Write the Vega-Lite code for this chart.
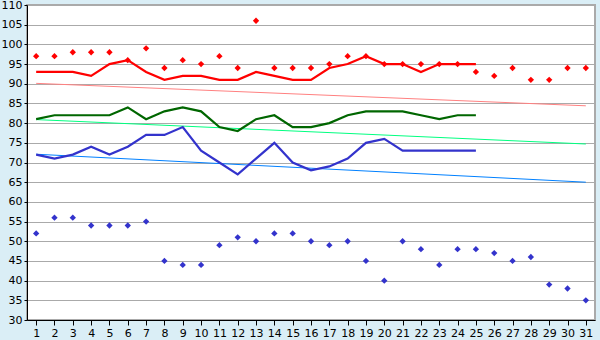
{
  "$schema": "https://vega.github.io/schema/vega-lite/v6.json",
  "width": 568,
  "height": 315,
  "autosize": {"type": "none"},
  "padding": {"left": 27, "top": 5, "right": 5, "bottom": 20},
  "background": "#daeef6",
  "config": {
    "view": {"fill": "white", "stroke": "#aaaaaa", "strokeWidth": 2},
    "font": "DejaVu Sans",
    "axis": {"labelFont": "DejaVu Sans", "labelFontSize": 11, "labelColor": "black", "domainColor": "black", "tickColor": "black"}
  },
  "datasets": {
    "lines": [
      {"x":1,"s":"red","y":93},{"x":2,"s":"red","y":93},{"x":3,"s":"red","y":93},{"x":4,"s":"red","y":92},{"x":5,"s":"red","y":95},{"x":6,"s":"red","y":96},{"x":7,"s":"red","y":93},{"x":8,"s":"red","y":91},{"x":9,"s":"red","y":92},{"x":10,"s":"red","y":92},{"x":11,"s":"red","y":91},{"x":12,"s":"red","y":91},{"x":13,"s":"red","y":93},{"x":14,"s":"red","y":92},{"x":15,"s":"red","y":91},{"x":16,"s":"red","y":91},{"x":17,"s":"red","y":94},{"x":18,"s":"red","y":95},{"x":19,"s":"red","y":97},{"x":20,"s":"red","y":95},{"x":21,"s":"red","y":95},{"x":22,"s":"red","y":93},{"x":23,"s":"red","y":95},{"x":24,"s":"red","y":95},{"x":25,"s":"red","y":95},
      {"x":1,"s":"green","y":81},{"x":2,"s":"green","y":82},{"x":3,"s":"green","y":82},{"x":4,"s":"green","y":82},{"x":5,"s":"green","y":82},{"x":6,"s":"green","y":84},{"x":7,"s":"green","y":81},{"x":8,"s":"green","y":83},{"x":9,"s":"green","y":84},{"x":10,"s":"green","y":83},{"x":11,"s":"green","y":79},{"x":12,"s":"green","y":78},{"x":13,"s":"green","y":81},{"x":14,"s":"green","y":82},{"x":15,"s":"green","y":79},{"x":16,"s":"green","y":79},{"x":17,"s":"green","y":80},{"x":18,"s":"green","y":82},{"x":19,"s":"green","y":83},{"x":20,"s":"green","y":83},{"x":21,"s":"green","y":83},{"x":22,"s":"green","y":82},{"x":23,"s":"green","y":81},{"x":24,"s":"green","y":82},{"x":25,"s":"green","y":82},
      {"x":1,"s":"blue","y":72},{"x":2,"s":"blue","y":71},{"x":3,"s":"blue","y":72},{"x":4,"s":"blue","y":74},{"x":5,"s":"blue","y":72},{"x":6,"s":"blue","y":74},{"x":7,"s":"blue","y":77},{"x":8,"s":"blue","y":77},{"x":9,"s":"blue","y":79},{"x":10,"s":"blue","y":73},{"x":11,"s":"blue","y":70},{"x":12,"s":"blue","y":67},{"x":13,"s":"blue","y":71},{"x":14,"s":"blue","y":75},{"x":15,"s":"blue","y":70},{"x":16,"s":"blue","y":68},{"x":17,"s":"blue","y":69},{"x":18,"s":"blue","y":71},{"x":19,"s":"blue","y":75},{"x":20,"s":"blue","y":76},{"x":21,"s":"blue","y":73},{"x":22,"s":"blue","y":73},{"x":23,"s":"blue","y":73},{"x":24,"s":"blue","y":73},{"x":25,"s":"blue","y":73}
    ],
    "points": [
      {"x":1,"s":"red","y":97},{"x":2,"s":"red","y":97},{"x":3,"s":"red","y":98},{"x":4,"s":"red","y":98},{"x":5,"s":"red","y":98},{"x":6,"s":"red","y":96},{"x":7,"s":"red","y":99},{"x":8,"s":"red","y":94},{"x":9,"s":"red","y":96},{"x":10,"s":"red","y":95},{"x":11,"s":"red","y":97},{"x":12,"s":"red","y":94},{"x":13,"s":"red","y":106},{"x":14,"s":"red","y":94},{"x":15,"s":"red","y":94},{"x":16,"s":"red","y":94},{"x":17,"s":"red","y":95},{"x":18,"s":"red","y":97},{"x":19,"s":"red","y":97},{"x":20,"s":"red","y":95},{"x":21,"s":"red","y":95},{"x":22,"s":"red","y":95},{"x":23,"s":"red","y":95},{"x":24,"s":"red","y":95},{"x":25,"s":"red","y":93},{"x":26,"s":"red","y":92},{"x":27,"s":"red","y":94},{"x":28,"s":"red","y":91},{"x":29,"s":"red","y":91},{"x":30,"s":"red","y":94},{"x":31,"s":"red","y":94},
      {"x":1,"s":"blue","y":52},{"x":2,"s":"blue","y":56},{"x":3,"s":"blue","y":56},{"x":4,"s":"blue","y":54},{"x":5,"s":"blue","y":54},{"x":6,"s":"blue","y":54},{"x":7,"s":"blue","y":55},{"x":8,"s":"blue","y":45},{"x":9,"s":"blue","y":44},{"x":10,"s":"blue","y":44},{"x":11,"s":"blue","y":49},{"x":12,"s":"blue","y":51},{"x":13,"s":"blue","y":50},{"x":14,"s":"blue","y":52},{"x":15,"s":"blue","y":52},{"x":16,"s":"blue","y":50},{"x":17,"s":"blue","y":49},{"x":18,"s":"blue","y":50},{"x":19,"s":"blue","y":45},{"x":20,"s":"blue","y":40},{"x":21,"s":"blue","y":50},{"x":22,"s":"blue","y":48},{"x":23,"s":"blue","y":44},{"x":24,"s":"blue","y":48},{"x":25,"s":"blue","y":48},{"x":26,"s":"blue","y":47},{"x":27,"s":"blue","y":45},{"x":28,"s":"blue","y":46},{"x":29,"s":"blue","y":39},{"x":30,"s":"blue","y":38},{"x":31,"s":"blue","y":35}
    ],
    "trends": [
      {"x":1,"s":"red","y":90.1},{"x":31,"s":"red","y":84.4},
      {"x":1,"s":"green","y":80.9},{"x":31,"s":"green","y":74.7},
      {"x":1,"s":"blue","y":72.1},{"x":31,"s":"blue","y":65.0}
    ]
  },
  "encoding": {
    "x": {"field": "x", "type": "quantitative", "scale": {"domain": [0.5, 31.5], "nice": false, "zero": false},
      "axis": {"title": null, "grid": false, "values": [1,2,3,4,5,6,7,8,9,10,11,12,13,14,15,16,17,18,19,20,21,22,23,24,25,26,27,28,29,30,31], "tickSize": 5, "labelPadding": 2, "domainWidth": 1}},
    "y": {"field": "y", "type": "quantitative", "scale": {"domain": [30, 110], "nice": false, "zero": false},
      "axis": {"title": null, "values": [30,35,40,45,50,55,60,65,70,75,80,85,90,95,100,105,110], "grid": true, "gridColor": "#aaaaaa", "gridWidth": 1, "tickSize": 3, "labelPadding": 2}}
  },
  "layer": [
    {
      "data": {"name": "trends"},
      "mark": {"type": "line", "strokeWidth": 1},
      "encoding": {
        "detail": {"field": "s"},
        "color": {"field": "s", "type": "nominal", "scale": {"domain": ["red","green","blue"], "range": ["#ff8080","#00ff80","#0080ff"]}, "legend": null}
      }
    },
    {
      "data": {"name": "lines"},
      "mark": {"type": "line", "strokeWidth": 2.2},
      "encoding": {
        "detail": {"field": "s"},
        "color": {"field": "s", "type": "nominal", "scale": {"domain": ["red","green","blue"], "range": ["#ff0000","#006600","#3333cc"]}, "legend": null}
      }
    },
    {
      "data": {"name": "points"},
      "mark": {"type": "point", "shape": "diamond", "filled": true, "size": 40, "opacity": 1},
      "encoding": {
        "color": {"field": "s", "type": "nominal", "scale": {"domain": ["red","blue"], "range": ["#ff0000","#3333cc"]}, "legend": null}
      }
    }
  ],
  "resolve": {"scale": {"color": "independent"}}
}
